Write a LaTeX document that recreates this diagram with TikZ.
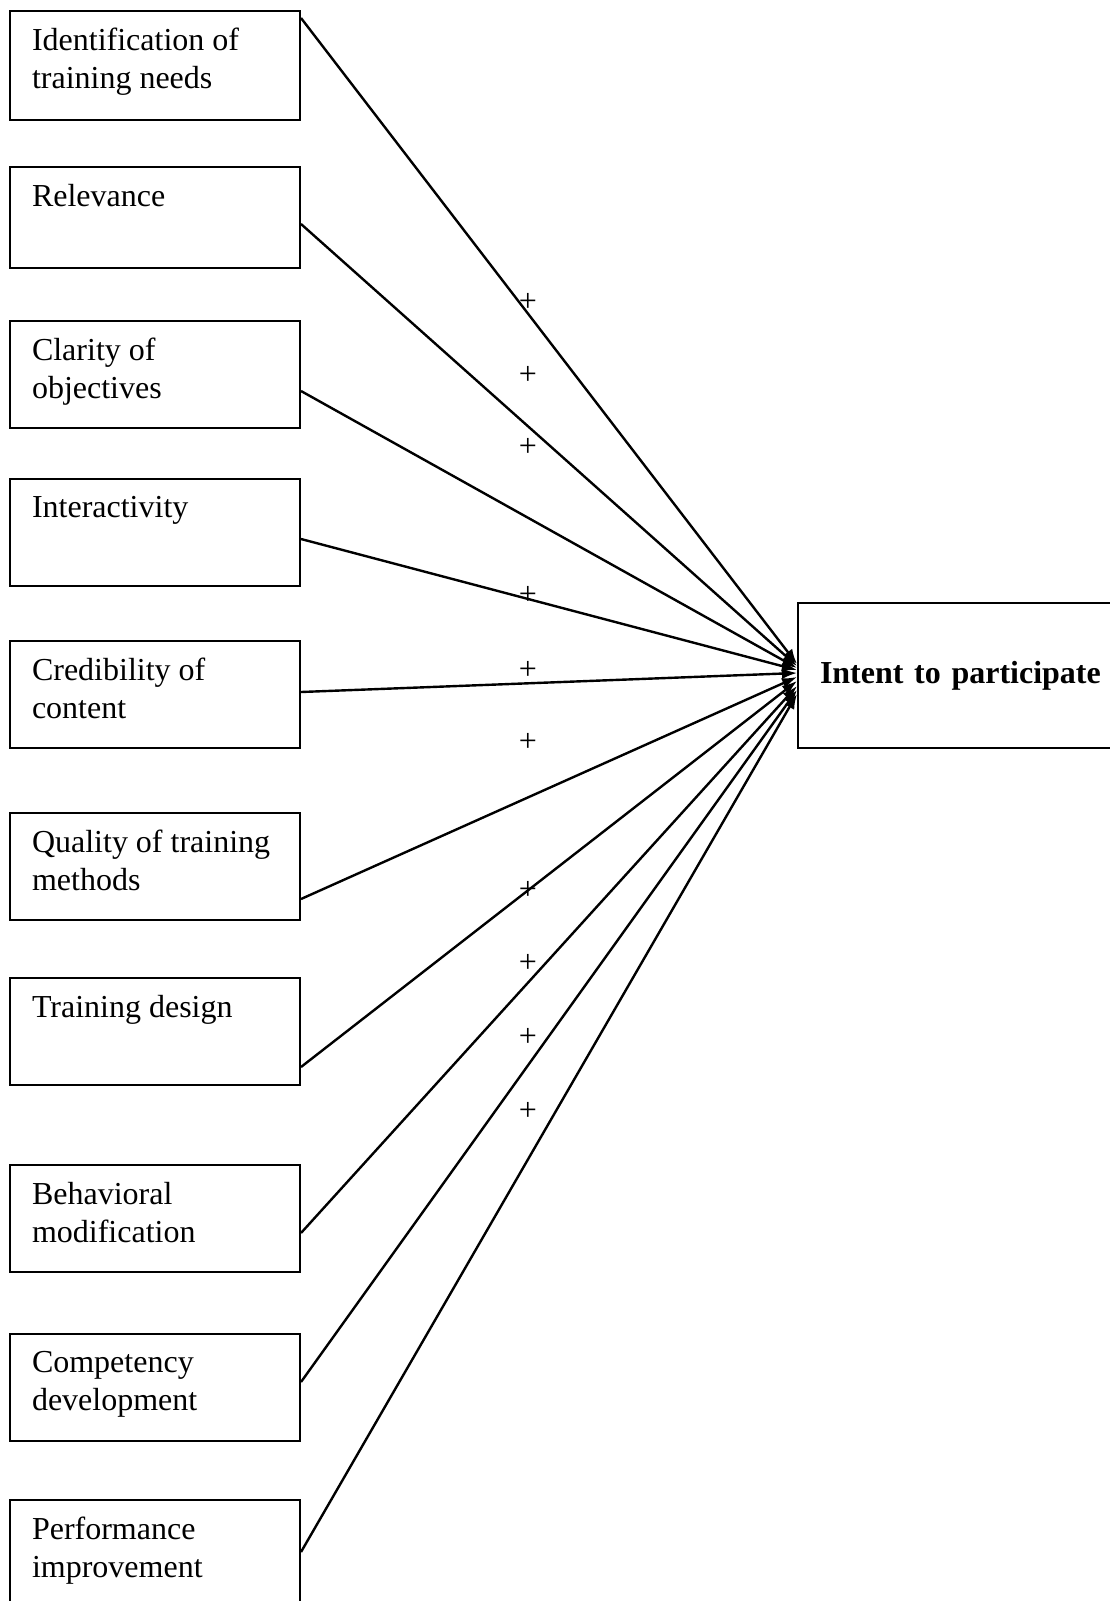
\documentclass[tikz,border=0pt]{standalone}
\usepackage{fontspec}
\setmainfont{Liberation Serif}
\usetikzlibrary{arrows.meta}
\newcommand\boxtxt[1]{\parbox[c][\boxheight][t]{290pt}{\vspace*{17pt}\raggedright\leftskip=22pt\noindent #1}}
\newlength\boxheight
\setlength\boxheight{107pt}
\begin{document}
\begin{tikzpicture}[x=1pt,y=-1pt,
  every node/.style={font=\fontsize{32}{37.8}\selectfont},
  factor/.style={draw, line width=2pt, inner sep=0pt, anchor=north west},
  outcome/.style={draw, line width=2pt, anchor=north west, inner xsep=22pt, inner ysep=0pt,
    text width=286pt, align=left, minimum height=145pt},
  link/.style={line width=2.4pt, -{Latex[length=15pt,width=11pt]}},
  sign/.style={inner sep=0pt}]
\useasboundingbox (0,0) rectangle (1110,1601);
\node[factor] (f1) at (9,10) {\setlength\boxheight{109pt}\boxtxt{Identification of\\training needs}};
\node[factor] (f2) at (9,166) {\setlength\boxheight{101pt}\boxtxt{Relevance}};
\node[factor] (f3) at (9,320) {\boxtxt{Clarity of\\objectives}};
\node[factor] (f4) at (9,478) {\boxtxt{Interactivity}};
\node[factor] (f5) at (9,640) {\boxtxt{Credibility of\\content}};
\node[factor] (f6) at (9,812) {\boxtxt{Quality of training\\methods}};
\node[factor] (f7) at (9,977) {\boxtxt{Training design}};
\node[factor] (f8) at (9,1164) {\boxtxt{Behavioral\\modification}};
\node[factor] (f9) at (9,1333) {\boxtxt{Competency\\development}};
\node[factor] (f10) at (9,1499) {\boxtxt{Performance\\improvement}};
\node[outcome] (out) at (797,602) {\textbf{Intent to participate}};
\draw[link] (f1.north east |- 0,18) -- (out.west |- 0,664);
\draw[link] (f2.north east |- 0,224) -- (out.west |- 0,666);
\draw[link] (f3.north east |- 0,391) -- (out.west |- 0,668);
\draw[link] (f4.north east |- 0,539) -- (out.west |- 0,670);
\draw[link] (f5.north east |- 0,692) -- (out.west |- 0,673);
\draw[link] (f6.north east |- 0,899) -- (out.west |- 0,677);
\draw[link] (f7.north east |- 0,1067) -- (out.west |- 0,681);
\draw[link] (f8.north east |- 0,1233) -- (out.west |- 0,686);
\draw[link] (f9.north east |- 0,1382) -- (out.west |- 0,690);
\draw[link] (f10.north east |- 0,1552) -- (out.west |- 0,694);
\node[sign] (p1) at (528,302) {+};
\node[sign] (p2) at (528,375) {+};
\node[sign] (p3) at (528,447) {+};
\node[sign] (p4) at (528,595) {+};
\node[sign] (p5) at (528,670) {+};
\node[sign] (p6) at (528,742) {+};
\node[sign] (p7) at (528,890) {+};
\node[sign] (p8) at (528,963) {+};
\node[sign] (p9) at (528,1037) {+};
\node[sign] (p10) at (528,1111) {+};
\end{tikzpicture}
\end{document}
